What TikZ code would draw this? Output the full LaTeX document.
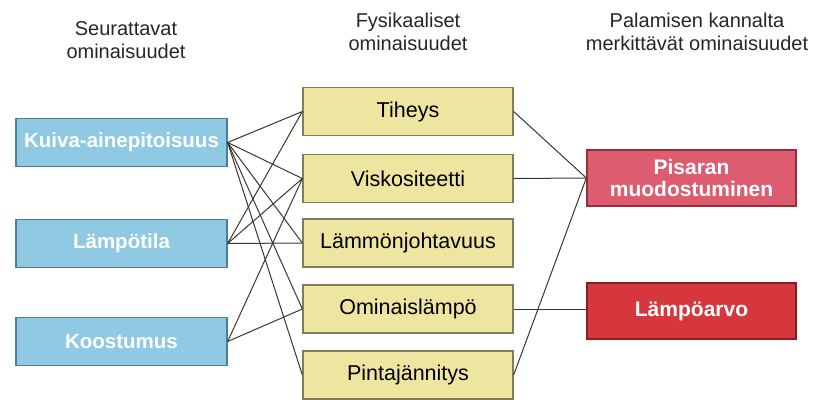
\documentclass[tikz,border=0pt]{standalone}
\usepackage{fontspec}
\setmainfont{Liberation Sans}
\definecolor{bluefill}{RGB}{143,201,227}
\definecolor{blueedge}{RGB}{80,125,148}
\definecolor{yelfill}{RGB}{238,230,160}
\definecolor{yeledge}{RGB}{130,124,88}
\definecolor{pinkfill}{RGB}{222,92,112}
\definecolor{pinkedge}{RGB}{150,45,62}
\definecolor{redfill}{RGB}{214,55,60}
\definecolor{rededge}{RGB}{135,30,35}
\definecolor{linkcol}{RGB}{55,55,50}
\tikzset{
  base/.style={rectangle, inner sep=0pt, line width=1.3pt, align=center},
  bluebox/.style={base, fill=bluefill, draw=blueedge, minimum width=211pt, minimum height=48pt,
    text=white, font=\bfseries\fontsize{20.5}{22}\selectfont},
  yelbox/.style={base, fill=yelfill, draw=yeledge, minimum width=210pt, minimum height=48pt,
    text=black, font=\fontsize{21.5}{23}\selectfont},
  pinkbox/.style={base, fill=pinkfill, draw=pinkedge, minimum width=209pt, minimum height=56pt,
    text=white, font=\bfseries\fontsize{21}{22}\selectfont},
  redbox/.style={base, fill=redfill, draw=rededge, minimum width=209pt, minimum height=56pt,
    text=white, font=\bfseries\fontsize{21}{22}\selectfont},
  header/.style={align=center, font=\fontsize{20}{23}\selectfont, text=black!85},
  link/.style={draw=linkcol, line width=1pt}
}
\begin{document}
\begin{tikzpicture}[x=1pt,y=-1pt]
\useasboundingbox (0,0) rectangle (816,399);
% headers
\node[header] (h1) at (126,40) {Seurattavat\\ominaisuudet};
\node[header] (h2) at (408,32) {Fysikaaliset\\ominaisuudet};
\node[header] (h3) at (697,32) {Palamisen kannalta\\merkittävät ominaisuudet};
% left column
\node[bluebox] (kuiva) at (121.5,142.5) {Kuiva-ainepitoisuus};
\node[bluebox] (lampo) at (121.5,243.5) {Lämpötila};
\node[bluebox] (koos) at (121.5,341.5) {Koostumus};
% middle column
\node[yelbox] (tih) at (408,111.5) {Tiheys};
\node[yelbox] (visk) at (408,178.5) {Viskositeetti};
\node[yelbox] (lamjoh) at (408,243) {Lämmönjohtavuus};
\node[yelbox] (omin) at (408,309) {Ominaislämpö};
\node[yelbox] (pinta) at (408,375) {Pintajännitys};
% right column
\node[pinkbox] (pis) at (691.5,178) {Pisaran\\muodostuminen};
\node[redbox] (lav) at (691.5,311) {Lämpöarvo};
% links left -> middle
\foreach \t in {tih,visk,lamjoh,omin,pinta}
  \draw[link] (kuiva.east) -- (\t.west);
\foreach \t in {tih,visk,lamjoh}
  \draw[link] (lampo.east) -- (\t.west);
\foreach \t in {visk,omin}
  \draw[link] (koos.east) -- (\t.west);
% links middle -> right
\foreach \s in {tih,visk,pinta}
  \draw[link] (\s.east) -- (pis.west);
\draw[link] (omin.east) -- (lav.west |- omin.east);
\end{tikzpicture}
\end{document}
